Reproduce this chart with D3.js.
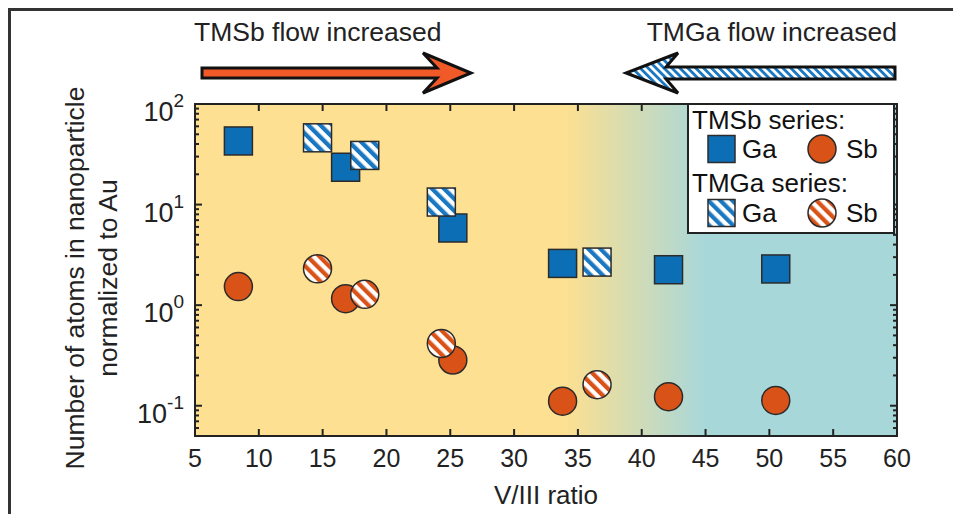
<!DOCTYPE html>
<html>
<head>
<meta charset="utf-8">
<script src="https://cdn.jsdelivr.net/npm/d3@7/dist/d3.min.js"></script>
<style>
  html, body { margin: 0; padding: 0; background: #fff; }
  svg { display: block; font-family: "Liberation Sans", Arial, sans-serif; }
</style>
</head>
<body>
<svg id="chart" width="953" height="514"></svg>
<script>
// V/III ratio for each sample
const tmsbRatio = [8.4, 16.8, 25.2, 33.8, 42.1, 50.5];
const tmgaRatio = [14.6, 18.3, 24.3, 36.5];
// Atoms per nanoparticle, normalized to Au
const tmsbGa = [42.9, 23.5, 5.85, 2.60, 2.25, 2.29];
const tmsbSb = [1.53, 1.16, 0.285, 0.111, 0.123, 0.113];
const tmgaGa = [46.1, 30.8, 10.6, 2.68];
const tmgaSb = [2.30, 1.28, 0.416, 0.162];

const xTicks = [5, 10, 15, 20, 25, 30, 35, 40, 45, 50, 55, 60];
const yTicks = [0.1, 1, 10, 100];
const yTickExp = ["-1", "0", "1", "2"];

const COL_BLUE = "#0c6fb6";
const COL_ORANGE = "#d95319";
const COL_ARROW = "#f05a28";
const COL_YELLOW = "#fde091";
const COL_TEAL = "#a8d7da";
const COL_EDGE = "#2b2b2b";

const svg = d3.select("#chart");
const pL = 195, pR = 897, pT = 104, pB = 436;

const x = d3.scaleLinear().domain([5, 60]).range([pL, pR]);
const y = d3.scaleLog().domain([0.05, 100]).range([pB, pT]);

const defs = svg.append("defs");

// Background gradient: yellow on the TMSb side, teal on the TMGa side
const grad = defs.append("linearGradient")
  .attr("id", "bg").attr("gradientUnits", "userSpaceOnUse")
  .attr("x1", x(34)).attr("x2", x(45)).attr("y1", 0).attr("y2", 0);
grad.append("stop").attr("offset", 0).attr("stop-color", COL_YELLOW);
grad.append("stop").attr("offset", 1).attr("stop-color", COL_TEAL);

// Diagonal stripe fills
function stripes(id, color, period) {
  const p = defs.append("pattern")
    .attr("id", id).attr("patternUnits", "userSpaceOnUse")
    .attr("width", period).attr("height", period)
    .attr("patternTransform", "rotate(-45)");
  p.append("rect").attr("width", period).attr("height", period).attr("fill", "#fff");
  p.append("rect").attr("width", period / 2).attr("height", period).attr("fill", color);
}
stripes("hatchBlue", "#1a78c2", 8.5);
stripes("hatchOrange", COL_ORANGE, 8.5);
stripes("hatchArrow", "#1a78c2", 5.6);

// Outer frame
svg.append("rect")
  .attr("x", 9.5).attr("y", 9.5).attr("width", 1000).attr("height", 1000)
  .attr("fill", "none").attr("stroke", "#333").attr("stroke-width", 3);

// Plot background
svg.append("rect")
  .attr("x", pL).attr("y", pT)
  .attr("width", pR - pL).attr("height", pB - pT)
  .attr("fill", "url(#bg)");

// Ticks on all four sides, pointing inward
const minorY = [];
for (let d = -2; d <= 1; d++) {
  for (let k = 2; k <= 9; k++) {
    const v = k * Math.pow(10, d);
    if (v >= 0.05 && v <= 100) minorY.push(v);
  }
}
const axes = svg.append("g").attr("stroke", "#222").attr("stroke-width", 2);
xTicks.forEach(t => {
  axes.append("line").attr("x1", x(t)).attr("x2", x(t)).attr("y1", pB).attr("y2", pB - 7);
  axes.append("line").attr("x1", x(t)).attr("x2", x(t)).attr("y1", pT).attr("y2", pT + 7);
});
yTicks.forEach(t => {
  axes.append("line").attr("x1", pL).attr("x2", pL + 7).attr("y1", y(t)).attr("y2", y(t));
  axes.append("line").attr("x1", pR).attr("x2", pR - 7).attr("y1", y(t)).attr("y2", y(t));
});
minorY.forEach(t => {
  axes.append("line").attr("x1", pL).attr("x2", pL + 4).attr("y1", y(t)).attr("y2", y(t));
  axes.append("line").attr("x1", pR).attr("x2", pR - 4).attr("y1", y(t)).attr("y2", y(t));
});

// Tick labels
const txt = svg.append("g").attr("fill", "#222");
txt.selectAll(".xt").data(xTicks).join("text")
  .attr("x", d => x(d)).attr("y", 467)
  .attr("text-anchor", "middle").attr("font-size", 25)
  .text(d => d);
yTicks.forEach((t, i) => {
  const label = txt.append("text")
    .attr("x", 184).attr("y", y(t) + 17)
    .attr("text-anchor", "end").attr("font-size", 27);
  label.append("tspan").text("10");
  label.append("tspan").attr("dy", -14).attr("font-size", 19).text(yTickExp[i]);
});

// Axis titles
txt.append("text")
  .attr("x", (pL + pR) / 2).attr("y", 504)
  .attr("text-anchor", "middle").attr("font-size", 26)
  .text("V/III ratio");
const yl = txt.append("text")
  .attr("transform", `translate(84, ${(pT + pB) / 2 + 8}) rotate(-90)`)
  .attr("text-anchor", "middle").attr("font-size", 26.5);
yl.append("tspan").attr("x", 0).attr("dy", 0).text("Number of atoms in nanoparticle");
yl.append("tspan").attr("x", 0).attr("dy", 33).text("normalized to Au");

// Markers
const S = 28; // marker size
const marks = svg.append("g").attr("stroke", COL_EDGE).attr("stroke-width", 1.5);
function squares(xs, ys, fill) {
  marks.append("g").selectAll("rect").data(xs.map((v, i) => [v, ys[i]])).join("rect")
    .attr("x", d => x(d[0]) - S / 2).attr("y", d => y(d[1]) - S / 2)
    .attr("width", S).attr("height", S).attr("fill", fill);
}
function circles(xs, ys, fill) {
  marks.append("g").selectAll("circle").data(xs.map((v, i) => [v, ys[i]])).join("circle")
    .attr("cx", d => x(d[0])).attr("cy", d => y(d[1]))
    .attr("r", S / 2).attr("fill", fill);
}
squares(tmsbRatio, tmsbGa, COL_BLUE);
circles(tmsbRatio, tmsbSb, COL_ORANGE);
squares(tmgaRatio, tmgaGa, "url(#hatchBlue)");
circles(tmgaRatio, tmgaSb, "url(#hatchOrange)");

// Plot frame
svg.append("rect")
  .attr("x", pL).attr("y", pT)
  .attr("width", pR - pL).attr("height", pB - pT)
  .attr("fill", "none").attr("stroke", "#222").attr("stroke-width", 2);

// Legend
const lg = svg.append("g");
lg.append("rect").attr("x", 688).attr("y", 104).attr("width", 206).attr("height", 129)
  .attr("fill", "#fff").attr("stroke", "#222").attr("stroke-width", 2);
const legRows = [
  { title: "TMSb series:", ty: 129, cy: 149, sq: COL_BLUE, ci: COL_ORANGE },
  { title: "TMGa series:", ty: 192, cy: 213, sq: "url(#hatchBlue)", ci: "url(#hatchOrange)" }
];
legRows.forEach(r => {
  lg.append("text").attr("x", 692).attr("y", r.ty).attr("font-size", 26).attr("fill", "#111").text(r.title);
  lg.append("rect").attr("x", 708).attr("y", r.cy - 13.5).attr("width", 27).attr("height", 27)
    .attr("fill", r.sq).attr("stroke", COL_EDGE).attr("stroke-width", 1.5);
  lg.append("text").attr("x", 742).attr("y", r.cy + 9).attr("font-size", 26).attr("fill", "#111").text("Ga");
  lg.append("circle").attr("cx", 822).attr("cy", r.cy).attr("r", 14)
    .attr("fill", r.ci).attr("stroke", COL_EDGE).attr("stroke-width", 1.5);
  lg.append("text").attr("x", 846).attr("y", r.cy + 9).attr("font-size", 26).attr("fill", "#111").text("Sb");
});

// Direction arrows above the plot
txt.append("text").attr("x", 194).attr("y", 41).attr("font-size", 26.5).text("TMSb flow increased");
txt.append("text").attr("x", 897).attr("y", 41).attr("text-anchor", "end").attr("font-size", 26.5).text("TMGa flow increased");

const arrowPath = d3.line();
svg.append("path")
  .attr("d", arrowPath([[202, 68], [437, 68], [423, 53], [471, 73], [423, 93], [437, 78], [202, 78]]) + "Z")
  .attr("fill", COL_ARROW).attr("stroke", "#111").attr("stroke-width", 3).attr("stroke-linejoin", "miter");
svg.append("path")
  .attr("d", arrowPath([[895, 67], [666, 67], [678, 53], [626, 73], [678, 93], [666, 79], [895, 79]]) + "Z")
  .attr("fill", "url(#hatchArrow)").attr("stroke", "#111").attr("stroke-width", 3).attr("stroke-linejoin", "miter");
</script>
</body>
</html>
